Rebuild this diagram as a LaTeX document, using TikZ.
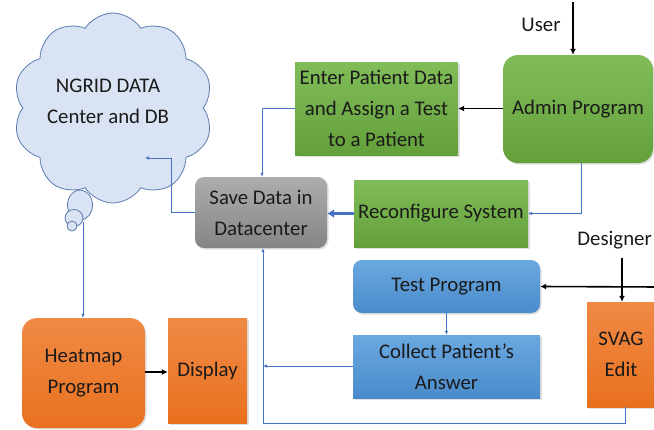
\documentclass[tikz,border=0pt]{standalone}
\usepackage{fontspec}
\setmainfont{Carlito}
\usetikzlibrary{shapes.symbols,arrows.meta,shadows}
\definecolor{gtop}{HTML}{80BC58}
\definecolor{gbot}{HTML}{64A03A}
\definecolor{otop}{HTML}{F08A45}
\definecolor{obot}{HTML}{E8711F}
\definecolor{btop}{HTML}{6AA8E0}
\definecolor{bbot}{HTML}{4A8BCB}
\definecolor{ytop}{HTML}{ADADAD}
\definecolor{ybot}{HTML}{858585}
\definecolor{cloudfill}{HTML}{DAE3F3}
\definecolor{cloudline}{HTML}{5B7BAE}
\definecolor{conn}{HTML}{4472C4}
\definecolor{txt}{HTML}{1A1A1A}
\tikzset{
  box/.style={draw=none, align=center, text=txt, font=\fontsize{20.8}{31}\selectfont,
    inner sep=0pt, drop shadow={opacity=0.25, shadow xshift=1.5pt, shadow yshift=-1.5pt}},
  greenbox/.style={box, top color=gtop, bottom color=gbot},
  orangebox/.style={box, top color=otop, bottom color=obot},
  bluebox/.style={box, top color=btop, bottom color=bbot},
  graybox/.style={box, top color=ytop, bottom color=ybot},
  thinconn/.style={draw=conn, line width=0.6pt, -{Latex[length=4pt,width=3.5pt]}},
  blkconn/.style={draw=black, line width=1.6pt, -{Latex[length=6pt,width=6pt]}},
  thickconn/.style={draw=conn, line width=3pt, -{Latex[length=7pt,width=9pt]}},
  lbl/.style={text=txt, font=\fontsize{20.8}{31}\selectfont, inner sep=0pt, align=center},
  puff/.style={draw=cloudline, fill=cloudfill, line width=0.8pt}
}
\begin{document}
\begin{tikzpicture}[x=1pt,y=-1pt]
\useasboundingbox (0,0) rectangle (654,429);
\clip (0,0) rectangle (654,429);
% cloud
\node[cloud, cloud puffs=10, cloud puff arc=115, aspect=1.05, puff,
  minimum width=200pt, minimum height=190pt] (cloud) at (113,108) {};
\node[lbl] (cloudtext) at (108,101) {NGRID DATA\\Center and DB};
\draw[puff] (80,205) ellipse [x radius=12.5, y radius=15];
\draw[puff] (74,218) ellipse [x radius=9, y radius=8.5];
\draw[puff] (72,226) circle [radius=5];
\coordinate (cloudbot) at (83,222);
\coordinate (cloudin) at (145,158);
% boxes
\node[graybox, rounded corners=9pt, minimum width=132pt, minimum height=71pt] (save) at (261,212.5) {Save Data in\\Datacenter};
\node[greenbox, minimum width=163pt, minimum height=93pt] (enter) at (376.5,108.5) {Enter Patient Data\\and Assign a Test\\to a Patient};
\node[greenbox, rounded corners=15pt, minimum width=150pt, minimum height=108pt] (admin) at (578,109) {Admin Program};
\node[greenbox, minimum width=174pt, minimum height=67pt] (reconf) at (441,213.5) {Reconfigure System};
\node[bluebox, rounded corners=9pt, minimum width=187pt, minimum height=53pt] (test) at (446.5,286.5) {Test Program};
\node[bluebox, minimum width=187pt, minimum height=63pt] (collect) at (446.5,366.5) {Collect Patient’s\\Answer};
\node[orangebox, minimum width=68pt, minimum height=105pt] (svag) at (621,354.5) {SVAG\\Edit};
\node[orangebox, rounded corners=15pt, minimum width=123pt, minimum height=110pt] (heat) at (83.5,373) {Heatmap\\Program};
\node[orangebox, minimum width=79pt, minimum height=105pt] (disp) at (207.5,370.5) {Display};
% labels
\node[lbl] (user) at (541,25) {User};
\node[lbl, anchor=east] (designer) at (652,240) {Designer};
\coordinate (usertop) at (573,2);
\coordinate (destop) at (622,258);
\coordinate (rightin) at (660,287);
\coordinate (collin) at (263,366);
\coordinate (bottomc) at (263,423);
% connectors
\draw[blkconn] (usertop) -- (usertop |- admin.north);
\draw[blkconn] (admin.west |- enter.east) -- (enter.east);
\draw[thinconn] ([xshift=3pt]admin.south) |- (reconf.east);
\draw[thickconn] (reconf.west) -- (save.east |- reconf.west);
\draw[thinconn] (enter.west) -| ([xshift=1pt]save.north);
\draw[thinconn] (save.west) -- ++(-24,0) |- (cloudin);
\draw[thinconn] (cloudbot) -- (cloudbot |- heat.north);
\draw[blkconn] (heat.east |- 0,372) -- (disp.west |- 0,372);
\draw[thinconn] (test.south) -- (collect.north);
\draw[blkconn] (destop) -- (destop |- svag.north);
\draw[blkconn] (rightin) -- (test.east);
\draw[thinconn] (collect.west |- collin) -- (collin);
\draw[thinconn] ([xshift=4pt]svag.south) |- (bottomc) -- (bottomc |- save.south);
\end{tikzpicture}
\end{document}
